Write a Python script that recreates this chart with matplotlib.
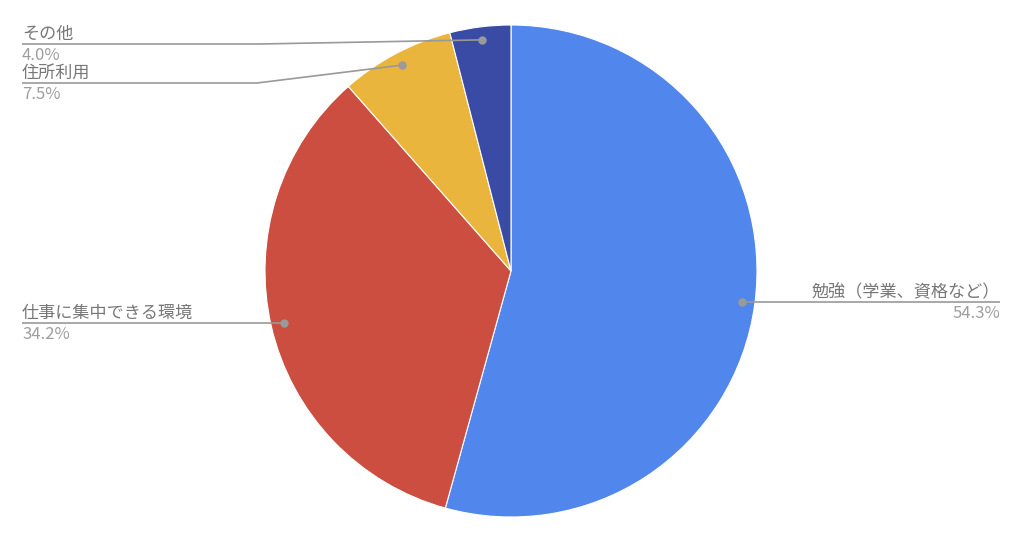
import numpy as np
import matplotlib
matplotlib.use("Agg")
import matplotlib.pyplot as plt

plt.rcParams['font.family'] = ['Noto Sans CJK JP', 'DejaVu Sans']

# data
labels = ["勉強（学業、資格など）", "仕事に集中できる環境", "住所利用", "その他"]
values = [54.3, 34.2, 7.5, 4.0]
colors = ["#5187EC", "#CB4E40", "#EAB53D", "#3A4BA6"]

W, H = 1024, 545
fig = plt.figure(figsize=(W / 100, H / 100), dpi=100)
ax = fig.add_axes([0, 0, 1, 1])

cx, cy, r = 511, H - 271, 246
wedges, _ = ax.pie(values, colors=colors, startangle=90, counterclock=False,
                   center=(cx, cy), radius=r, frame=True,
                   wedgeprops=dict(edgecolor="white", linewidth=0.8))
ax.set_xlim(0, W)
ax.set_ylim(0, H)
ax.set_aspect("equal")
ax.axis("off")

line_c = "#999999"
name_c = "#777777"
pct_c = "#9E9E9E"

# layout for each label: (side, elbow x, line y in pixels from top)
layout = {
    0: ("right", None, None),
    1: ("left", None, None),
    2: ("left", 257, 83),
    3: ("left", 260, 44),
}

for i, w in enumerate(wedges):
    mid = np.deg2rad((w.theta1 + w.theta2) / 2)
    px = cx + 0.947 * r * np.cos(mid)
    py = cy + 0.947 * r * np.sin(mid)
    side, ex, ly = layout[i]
    if ly is None:
        yl = py
        xs = [px, 1000] if side == "right" else [px, 22]
        ys = [yl, yl]
    else:
        yl = H - ly
        xs = [px, ex, 22]
        ys = [py, yl, yl]
    ax.plot(xs, ys, color=line_c, lw=1.2, solid_capstyle="butt", zorder=5)
    ax.plot(px, py, "o", color="#9A9A9A", ms=5, zorder=6)
    pct = f"{values[i]:.1f}%"
    tx = 1000 if side == "right" else 22
    ax.text(tx, yl + 5, labels[i], ha=side, va="baseline", fontsize=12.3, color=name_c)
    ax.text(tx, yl - 16, pct, ha=side, va="baseline", fontsize=12, color=pct_c)

fig.savefig("out.png", dpi=100, facecolor="white")
